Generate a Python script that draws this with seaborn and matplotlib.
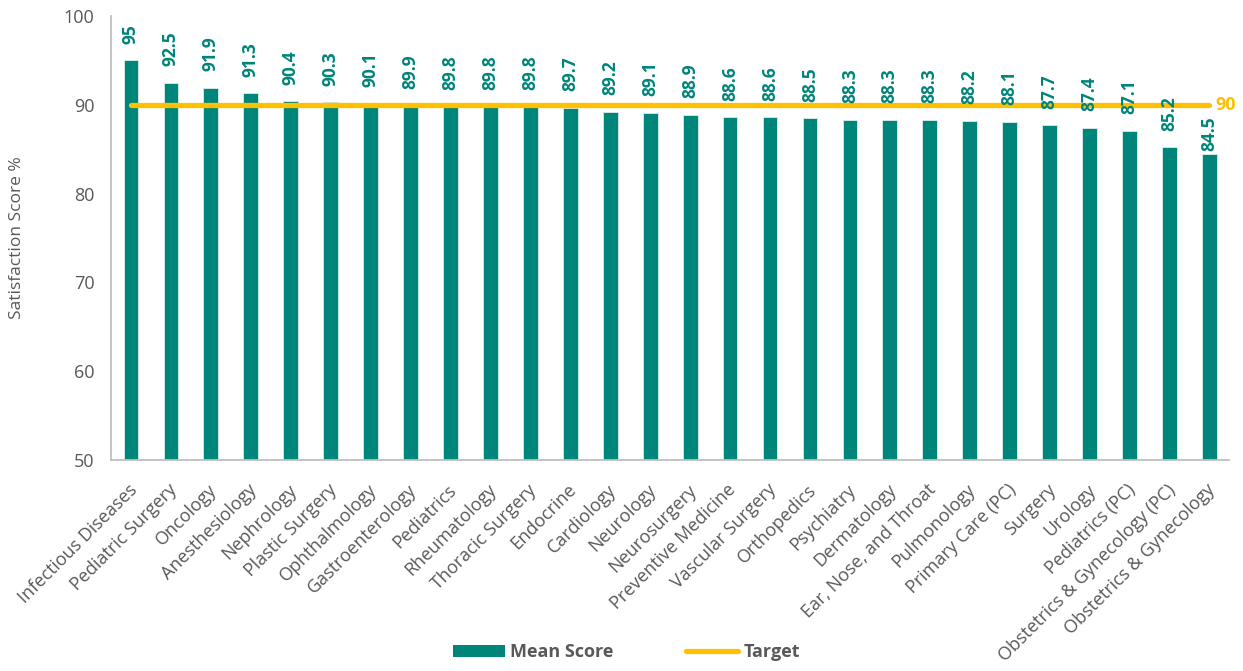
import matplotlib
matplotlib.use("Agg")
import matplotlib.pyplot as plt
import matplotlib.transforms as mtransforms
import seaborn as sns
import pandas as pd
from matplotlib.patches import Patch
from matplotlib.lines import Line2D

departments = [
    "Infectious Diseases", "Pediatric Surgery", "Oncology", "Anesthesiology",
    "Nephrology", "Plastic Surgery", "Ophthalmology", "Gastroenterology",
    "Pediatrics", "Rheumatology", "Thoracic Surgery", "Endocrine",
    "Cardiology", "Neurology", "Neurosurgery", "Preventive Medicine",
    "Vascular Surgery", "Orthopedics", "Psychiatry", "Dermatology",
    "Ear, Nose, and Throat", "Pulmonology", "Primary Care (PC)", "Surgery",
    "Urology", "Pediatrics (PC)", "Obstetrics & Gynecology (PC)",
    "Obstetrics & Gynecology",
]
mean_scores = [
    95, 92.5, 91.9, 91.3, 90.4, 90.3, 90.1, 89.9, 89.8, 89.8, 89.8, 89.7,
    89.2, 89.1, 88.9, 88.6, 88.6, 88.5, 88.3, 88.3, 88.3, 88.2, 88.1, 87.7,
    87.4, 87.1, 85.2, 84.5,
]
target = 90
y_ticks = [50, 60, 70, 80, 90, 100]

TEAL = "#00857A"
GOLD = "#FFC000"
GRAY = "#595959"
AXIS_GRAY = "#BFBFBF"

sns.set_theme(style="white")
plt.rcParams["font.family"] = ["Open Sans", "DejaVu Sans"]

df = pd.DataFrame({"Department": departments, "Mean Score": mean_scores})

fig = plt.figure(figsize=(12.43, 6.71), dpi=100)
ax = fig.add_axes([0.0893, 0.3145, 0.8997, 0.6615])

sns.barplot(data=df, x="Department", y="Mean Score", color=TEAL, width=0.37,
            saturation=1, ax=ax, edgecolor="#DDEEEA", linewidth=0.6)

n = len(departments)
ax.plot(range(n), [target] * n, color=GOLD, lw=3.8, solid_capstyle="round",
        zorder=5)
ax.text(n - 1 + 0.15, target, str(target), color=GOLD, fontsize=13,
        fontweight="bold", va="center", ha="left", zorder=6, clip_on=False)

for i, v in enumerate(mean_scores):
    # the last label sits close to its bar (it would otherwise hit the target label)
    off = 2 if i == n - 1 else 12
    ax.annotate(f"{v:g}", (i, v), xytext=(0, off), textcoords="offset points",
                rotation=90, ha="center", va="bottom", color=TEAL,
                fontsize=12.5, fontweight="bold", zorder=7)

ax.set_ylim(50, 100)
ax.set_xlim(-0.5, n - 0.5)
ax.set_yticks(y_ticks)
ax.set_yticklabels([str(t) for t in y_ticks], color=GRAY, fontsize=13)
ax.tick_params(axis="y", length=0, pad=12)
ax.tick_params(axis="x", length=0, pad=15)
ax.set_xticks(range(n))
ax.set_xticklabels(departments, rotation=45, ha="right",
                   rotation_mode="anchor", color=GRAY, fontsize=13)
shift = mtransforms.ScaledTranslation(-3 / 100, 0, fig.dpi_scale_trans)
for lab in ax.get_xticklabels():
    lab.set_transform(lab.get_transform() + shift)
ax.set_xlabel("")
ax.set_ylabel("Satisfaction Score %", color=GRAY, fontsize=12.5, labelpad=28)

for s in ["top", "right"]:
    ax.spines[s].set_visible(False)
for s in ["left", "bottom"]:
    ax.spines[s].set_color(AXIS_GRAY)
    ax.spines[s].set_linewidth(1.3)

handles = [Patch(facecolor=TEAL, edgecolor="none", label="Mean Score"),
           Line2D([0], [0], color=GOLD, lw=3.8, solid_capstyle="round",
                  label="Target")]
leg = fig.legend(handles=handles, loc="center", bbox_to_anchor=(0.504, 0.028),
                 ncol=2, frameon=False, columnspacing=4.0, handlelength=2.9,
                 handletextpad=0.3, prop={"size": 13, "weight": "bold"})
for t in leg.get_texts():
    t.set_color(GRAY)

fig.savefig("out.png", dpi=100)
